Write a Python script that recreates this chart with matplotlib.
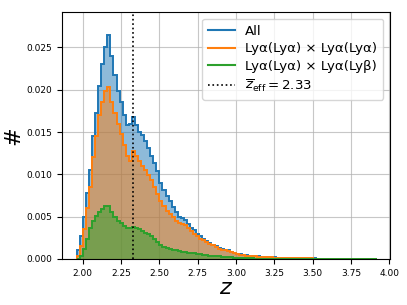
import numpy as np
import matplotlib
matplotlib.use("Agg")
import matplotlib.pyplot as plt
from matplotlib.lines import Line2D
from matplotlib.ticker import FormatStrFormatter

# histogram bins (z), width 0.02
z_lo = 1.96
z_hi = 3.92
z_eff = 2.33

# normalised counts per bin
all_pairs = [
    0.0010, 0.0027, 0.0050, 0.0078, 0.0105, 0.0145, 0.0172, 0.0205, 0.0230, 0.0250,
    0.0265, 0.0240, 0.0218, 0.0198, 0.0186, 0.0170, 0.0158, 0.0160, 0.0168, 0.0158,
    0.0150, 0.0146, 0.0139, 0.0131, 0.0122, 0.0113, 0.0104, 0.0090, 0.0081, 0.0074,
    0.0068, 0.0061, 0.0055, 0.0050, 0.0048, 0.0046, 0.0041, 0.0037, 0.0034, 0.0030,
    0.0027, 0.0024, 0.0021, 0.0019, 0.0017, 0.0015, 0.0013, 0.0012, 0.0011, 0.0010,
    0.0008, 0.0007, 0.0006, 0.00055, 0.0005, 0.00045, 0.0004, 0.00036, 0.00033, 0.0003,
    0.00027, 0.00024, 0.00022, 0.0002, 0.00018, 0.00016, 0.00015, 0.00014, 0.00013, 0.00012,
    0.00011, 0.0001, 0.00009, 0.00008, 0.00008, 0.00007, 0.00006, 0.00006, 0.00005, 0.00005,
    0.00004, 0.00004, 0.00003, 0.00003, 0.00003, 0.00002, 0.00002, 0.00002, 0.00002, 0.00001,
    0.00001, 0.00001, 0.00001, 0.00001, 0.00001, 0.00001, 0.00001, 0.00001,
]
lya_lya = [
    0.0003, 0.0015, 0.0035, 0.0060, 0.0085, 0.0120, 0.0145, 0.0170, 0.0185, 0.0198,
    0.0203, 0.0186, 0.0172, 0.0160, 0.0148, 0.0135, 0.0122, 0.0116, 0.0128, 0.0122,
    0.0116, 0.0110, 0.0105, 0.0099, 0.0093, 0.0085, 0.0077, 0.0068, 0.0062, 0.0057,
    0.0053, 0.0049, 0.0045, 0.0042, 0.0041, 0.0040, 0.0036, 0.0033, 0.0030, 0.0027,
    0.0024, 0.0022, 0.0020, 0.0018, 0.0016, 0.0014, 0.0012, 0.0011, 0.0010, 0.0009,
    0.0008, 0.0007, 0.00055, 0.0005, 0.00045, 0.0004, 0.00036, 0.00032, 0.0003, 0.00027,
    0.00025, 0.00022, 0.0002, 0.00018, 0.00016, 0.00015, 0.00014, 0.00013, 0.00012, 0.00011,
    0.0001, 0.00009, 0.00008, 0.00008, 0.00007, 0.00007, 0.00006, 0.00005, 0.00005, 0.00004,
    0.00004, 0.00003, 0.00003, 0.00003, 0.00002, 0.00002, 0.00002, 0.00002, 0.00002, 0.00001,
    0.00001, 0.00001, 0.00001, 0.00001, 0.00001, 0.00001, 0.00001, 0.00001,
]
lya_lyb = [
    0.0, 0.0004, 0.0012, 0.0024, 0.0036, 0.0045, 0.0051, 0.0055, 0.0059, 0.0062,
    0.0062, 0.0056, 0.0050, 0.0045, 0.0042, 0.0039, 0.0036, 0.0037, 0.0038, 0.0037,
    0.0035, 0.0033, 0.0031, 0.0029, 0.0027, 0.0024, 0.0020, 0.0016, 0.0014, 0.0013,
    0.0012, 0.0011, 0.0010, 0.0009, 0.00085, 0.0008, 0.00075, 0.0007, 0.00065, 0.0006,
    0.00055, 0.0005, 0.00045, 0.0004, 0.00037, 0.00034, 0.0003, 0.00027, 0.00024, 0.00021,
    0.00018, 0.00015, 0.00013, 0.00011, 0.0001, 0.00008, 0.00007, 0.00006, 0.00005, 0.00004,
    0.00004, 0.00003, 0.00003, 0.00002, 0.00002, 0.00001, 0.00001, 0.00001, 0.00001, 0.00001,
    0.00001, 0.00001, 0.00001, 0.00001, 0.00001, 0.0, 0.0, 0.0, 0.0, 0.0,
    0.0, 0.0, 0.0, 0.0, 0.0, 0.0, 0.0, 0.0, 0.0, 0.0,
    0.0, 0.0, 0.0, 0.0, 0.0, 0.0, 0.0, 0.0,
]

labels = ['All', 'Lyα(Lyα) × Lyα(Lyα)', 'Lyα(Lyα) × Lyα(Lyβ)']
colors = ['C0', 'C1', 'C2']

edges = np.linspace(z_lo, z_hi, len(all_pairs) + 1)

fig = plt.figure(figsize=(4.07, 3.05), dpi=100)
ax = fig.add_axes([0.152, 0.151, 0.806, 0.810])

handles = []
for vals, c, lab in zip([all_pairs, lya_lya, lya_lyb], colors, labels):
    ax.stairs(vals, edges, fill=True, color=c, alpha=0.5, lw=0)
    ax.stairs(vals, edges, color=c, lw=1.4)
    handles.append(Line2D([], [], color=c, lw=1.5, label=lab))

ax.axvline(z_eff, color='k', ls=':', lw=1.2)
handles.append(Line2D([], [], color='k', ls=':', lw=1.2,
                      label=r'$\overline{z}_{\rm eff} = %.2f$' % z_eff))

ax.set_xlim(1.863, 4.005)
ax.set_ylim(0, 0.0292)
ax.set_xticks(np.arange(2.0, 4.01, 0.25))
ax.set_yticks(np.arange(0, 0.0251, 0.005))
ax.xaxis.set_major_formatter(FormatStrFormatter('%.2f'))
ax.yaxis.set_major_formatter(FormatStrFormatter('%.3f'))
ax.tick_params(labelsize=6.5)
ax.grid(True, color='#b0b0b0', lw=0.8, alpha=0.7)
ax.set_axisbelow(True)

ax.set_xlabel(r'$z$', fontsize=16, labelpad=0)
ax.set_ylabel('#', fontsize=16, labelpad=2)

ax.legend(handles=handles, loc='upper right', fontsize=9.6, handlelength=2.0,
          labelspacing=0.35, borderpad=0.45, handletextpad=0.8)

fig.savefig('out.png', dpi=100)
